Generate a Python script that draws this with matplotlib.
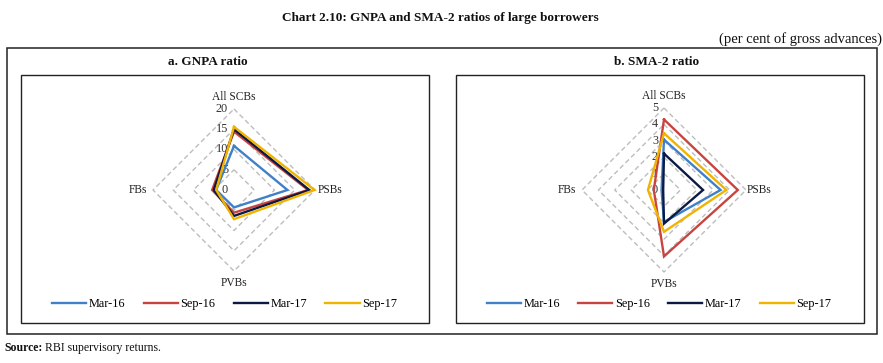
import numpy as np
import matplotlib
matplotlib.use("Agg")
import matplotlib.pyplot as plt
from matplotlib.transforms import offset_copy
from matplotlib.patches import Rectangle

plt.rcParams['font.family'] = ['Liberation Serif', 'DejaVu Serif']

# ---------------- data ----------------
categories = ['All SCBs', 'PSBs', 'PVBs', 'FBs']
series_names = ['Mar-16', 'Sep-16', 'Mar-17', 'Sep-17']
series_colors = ['#3F80C8', '#C8443F', '#0B1A45', '#F0B400']

gnpa_mar16 = [10.9, 13.2, 4.3, 4.4]
gnpa_sep16 = [14.4, 18.3, 5.6, 5.4]
gnpa_mar17 = [15.0, 18.6, 6.4, 5.0]
gnpa_sep17 = [15.6, 19.9, 7.2, 4.4]
gnpa_ticks = [0, 5, 10, 15, 20]

sma2_mar16 = [3.07, 3.45, 1.95, 0.15]
sma2_sep16 = [4.3, 4.5, 4.05, 0.62]
sma2_mar17 = [2.22, 2.38, 2.05, 0.05]
sma2_sep17 = [3.46, 3.8, 2.55, 0.98]
sma2_ticks = [0, 1, 2, 3, 4, 5]

W, H = 883, 363
fig = plt.figure(figsize=(W / 100, H / 100), dpi=100)


def fx(px):
    return px / W


def fy(py):
    return 1 - py / H


# boxes
fig.add_artist(Rectangle((fx(7.3), fy(334)), fx(876.7 - 7.3), (334 - 48.3) / H,
                         transform=fig.transFigure, fill=False, ec='#222222', lw=1.1))
fig.add_artist(Rectangle((fx(20.7), fy(322.7)), fx(429.3 - 20.7), (322.7 - 75) / H,
                         transform=fig.transFigure, fill=False, ec='#222222', lw=1.0))
fig.add_artist(Rectangle((fx(455.7), fy(322.7)), fx(864 - 455.7), (322.7 - 75) / H,
                         transform=fig.transFigure, fill=False, ec='#222222', lw=1.0))

# titles
fig.text(fx(440), fy(18), 'Chart 2.10: GNPA and SMA-2 ratios of large borrowers',
         ha='center', va='center', fontsize=9.5, fontweight='bold', color='#111111')
fig.text(fx(882), fy(39), '(per cent of gross advances)', ha='right', va='center',
         fontsize=10.5, color='#111111')
fig.text(fx(208), fy(62), 'a. GNPA ratio', ha='center', va='center',
         fontsize=9.5, fontweight='bold', color='#111111')
fig.text(fx(657), fy(62), 'b. SMA-2 ratio', ha='center', va='center',
         fontsize=9.5, fontweight='bold', color='#111111')

src = fig.text(fx(4), fy(348), 'Source:', ha='left', va='center', fontsize=8.5,
               fontweight='bold', color='#111111')
fig.canvas.draw()
bb = src.get_window_extent(fig.canvas.get_renderer())
fig.text(bb.x1 / W + 3 / W, fy(348), 'RBI supervisory returns.', ha='left', va='center',
         fontsize=8.5, color='#111111')

thetas = np.deg2rad([0, 90, 180, 270])
thetas_c = np.append(thetas, thetas[0])


def radar(cx, cy, rad, ticks, series, legend_cx, psb_off):
    ax = fig.add_axes([fx(cx - rad), fy(cy + rad), fx(2 * rad), 2 * rad / H],
                      projection='polar')
    ax.set_theta_zero_location('N')
    ax.set_theta_direction(-1)
    rmax = ticks[-1]
    ax.set_ylim(0, rmax)
    ax.grid(False)
    ax.spines['polar'].set_visible(False)
    ax.set_xticks([])
    ax.set_yticks([])
    ax.patch.set_alpha(0)
    for r in ticks[1:]:
        ax.plot(thetas_c, [r] * 5, ls=(0, (3.5, 2.2)), color='#BDBDBD', lw=1.0,
                zorder=1, clip_on=False)
    tr = offset_copy(ax.transData, fig=fig, x=-6, y=0, units='dots')
    for r in ticks:
        ax.text(0, r, str(r), transform=tr, ha='right', va='center',
                fontsize=8.8, color='#333333')
    offs = [(0, 12, 'center'), (psb_off, 0, 'left'), (0, -12, 'center'), (-6, 0, 'right')]
    for th, lab, (ox, oy, ha) in zip(thetas, categories, offs):
        t2 = offset_copy(ax.transData, fig=fig, x=ox, y=oy, units='dots')
        ax.text(th, rmax, lab, transform=t2, ha=ha, va='center', fontsize=8.3,
                color='#222222')
    handles = []
    for name, vals, col in zip(series_names, series, series_colors):
        v = list(vals) + [vals[0]]
        h, = ax.plot(thetas_c, v, color=col, lw=1.7, label=name, zorder=3,
                     clip_on=False, solid_joinstyle='miter')
        handles.append(h)
    ax.legend(handles=handles, loc='center', bbox_to_anchor=(fx(legend_cx), fy(304)),
              bbox_transform=fig.transFigure, ncol=4, frameon=False, fontsize=8.8,
              handlelength=2.8, handletextpad=0.2, columnspacing=1.5)
    return ax


radar(234, 190, 81, gnpa_ticks, [gnpa_mar16, gnpa_sep16, gnpa_mar17, gnpa_sep17], 224.5, 3)
radar(664, 190, 82, sma2_ticks, [sma2_mar16, sma2_sep16, sma2_mar17, sma2_sep17], 659, 1)

fig.savefig('out.png', dpi=100)
